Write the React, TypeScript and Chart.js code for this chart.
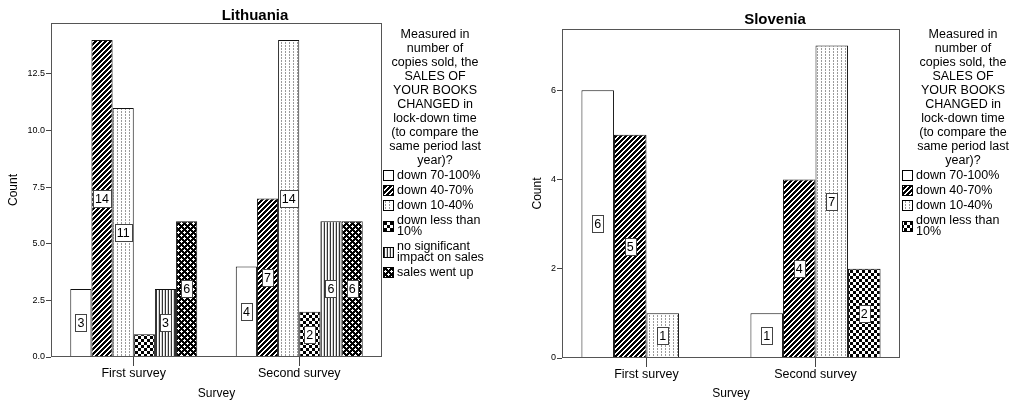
import React, { useEffect, useRef } from "react";
import { Chart, registerables } from "chart.js";

Chart.register(...registerables);

// ---------- data ----------
const categories = ["First survey", "Second survey"];

const ltDown70to100 = [3, 4];
const ltDown40to70 = [14, 7];
const ltDown10to40 = [11, 14];
const ltDownLess10 = [1, 2];
const ltNoImpact = [3, 6];
const ltWentUp = [6, 6];

const siDown70to100 = [6, 1];
const siDown40to70 = [5, 4];
const siDown10to40 = [1, 7];
const siDownLess10 = [null, 2];

const ltTicks = [0, 2.5, 5, 7.5, 10, 12.5];
const siTicks = [0, 2, 4, 6];

const seriesNames = [
  "down 70-100%",
  "down 40-70%",
  "down 10-40%",
  "down less than 10%",
  "no significant impact on sales",
  "sales went up",
];

const legendTitleLines = [
  "Measured in",
  "number of",
  "copies sold, the",
  "SALES OF",
  "YOUR BOOKS",
  "CHANGED in",
  "lock-down time",
  "(to compare the",
  "same period last",
  "year)?",
];

const FONT = '"Liberation Sans", Arial, Helvetica, sans-serif';

// ---------- patterns ----------
function tile(w: number, h: number, fn: (x: number, y: number) => string | null) {
  const c = document.createElement("canvas");
  c.width = w;
  c.height = h;
  const g = c.getContext("2d")!;
  g.fillStyle = "#fff";
  g.fillRect(0, 0, w, h);
  for (let y = 0; y < h; y++) {
    for (let x = 0; x < w; x++) {
      const col = fn(x, y);
      if (col) {
        g.fillStyle = col;
        g.fillRect(x, y, 1, 1);
      }
    }
  }
  return c;
}

function makePattern(ctx: CanvasRenderingContext2D, kind: number): CanvasPattern | string {
  let c: HTMLCanvasElement | null = null;
  if (kind === 0) return "#ffffff";
  if (kind === 1) c = tile(5, 5, (x, y) => ((x + y) % 5 < 3 ? "#000" : null));
  if (kind === 2) c = tile(4, 3, (x, y) => (x === 1 && y < 2 ? "#9a9a9a" : null));
  if (kind === 3) c = tile(6, 6, (x, y) => ((x < 3) === (y < 3) ? "#000" : null));
  if (kind === 4) c = tile(3, 1, (x) => (x === 0 ? "#333" : x === 2 ? "#d0d0d0" : null));
  if (kind === 5)
    c = tile(6, 6, (x, y) => {
      const d1 = Math.abs(x - 1) + Math.abs(y - 1);
      const d2 = Math.abs(x - 4) + Math.abs(y - 4);
      return d1 <= 1 || d2 <= 1 ? null : "#000";
    });
  return ctx.createPattern(c!, "repeat")!;
}

// ---------- plugins ----------
const valueLabels = {
  id: "valueLabels",
  afterDatasetsDraw(chart: any) {
    const ctx = chart.ctx as CanvasRenderingContext2D;
    ctx.save();
    ctx.font = `12.5px ${FONT}`;
    chart.data.datasets.forEach((ds: any, di: number) => {
      const meta = chart.getDatasetMeta(di);
      meta.data.forEach((bar: any, i: number) => {
        const v = ds.data[i];
        if (v == null || v === 0) return;
        const { x, y, base } = bar.getProps(["x", "y", "base"], true);
        const h = Math.abs(base - y);
        const text = String(v);
        const tw = ctx.measureText(text).width;
        const bw = Math.round(tw + 4);
        const bh = 17;
        if (h < bh + 8) return;
        const cy = (y + base) / 2;
        const left = Math.round(x - bw / 2) + 0.5;
        const top = Math.round(cy - bh / 2) + 0.5;
        ctx.fillStyle = "#fff";
        ctx.fillRect(left, top, bw, bh);
        ctx.strokeStyle = "#444";
        ctx.lineWidth = 1;
        ctx.strokeRect(left, top, bw, bh);
        ctx.fillStyle = "#000";
        ctx.textAlign = "center";
        ctx.textBaseline = "middle";
        ctx.fillText(text, x, cy + 1);
      });
    });
    ctx.restore();
  },
};

const frame = {
  id: "frame",
  afterDatasetsDraw(chart: any) {
    const { ctx, chartArea } = chart;
    ctx.save();
    ctx.strokeStyle = "#555";
    ctx.lineWidth = 1;
    ctx.strokeRect(
      Math.round(chartArea.left) + 0.5,
      Math.round(chartArea.top) + 0.5,
      Math.round(chartArea.right - chartArea.left) - 1,
      Math.round(chartArea.bottom - chartArea.top) - 1
    );
    ctx.restore();
  },
};

function wrapText(ctx: CanvasRenderingContext2D, text: string, maxW: number) {
  const words = text.split(" ");
  const lines: string[] = [];
  let cur = "";
  for (const w of words) {
    const t = cur ? cur + " " + w : w;
    if (cur && ctx.measureText(t).width > maxW) {
      lines.push(cur);
      cur = w;
    } else cur = t;
  }
  if (cur) lines.push(cur);
  return lines;
}

function makeLegend(swatchX: number, titleCenter: number) {
  return {
    id: "sideLegend",
    afterDraw(chart: any) {
      const ctx = chart.ctx as CanvasRenderingContext2D;
      ctx.save();
      ctx.font = `12.5px ${FONT}`;
      ctx.fillStyle = "#000";
      ctx.textBaseline = "middle";
      ctx.textAlign = "center";
      legendTitleLines.forEach((l, i) => ctx.fillText(l, titleCenter, 35 + i * 14));
      ctx.textAlign = "left";
      let top = 169.5;
      const L = 11;
      chart.data.datasets.forEach((ds: any) => {
        const lines = wrapText(ctx, ds.label, 93);
        const h = lines.length * L;
        const sy = Math.round(top + h / 2 - 5) + 0.5;
        ctx.fillStyle = ds.backgroundColor;
        ctx.fillRect(swatchX + 0.5, sy, 10, 10);
        ctx.strokeStyle = "#000";
        ctx.lineWidth = 1;
        ctx.strokeRect(swatchX + 0.5, sy, 10, 10);
        ctx.fillStyle = "#000";
        lines.forEach((ln, k) => ctx.fillText(ln, swatchX + 14, top + L / 2 + k * L + 0.5));
        top += h + 4;
      });
      ctx.restore();
    },
  };
}

// ---------- panel ----------
type PanelProps = {
  left: number;
  title: string;
  series: (number | null)[][];
  kinds: number[];
  yMax: number;
  ticks: number[];
  decimals: number;
  yWidth: number;
  rightWidth: number;
  xHeight: number;
  titleTop: number;
  titleBottom: number;
  countPad: number;
  catPct: number;
  swatchX: number;
  titleCenter: number;
};

function Panel(p: PanelProps) {
  const ref = useRef<HTMLCanvasElement>(null);
  useEffect(() => {
    const canvas = ref.current!;
    const ctx = canvas.getContext("2d")!;
    const chart = new Chart(canvas, {
      type: "bar",
      data: {
        labels: categories,
        datasets: p.series.map((vals, i) => ({
          label: seriesNames[i],
          data: vals,
          backgroundColor: makePattern(ctx, p.kinds[i]) as any,
          borderColor: "#111",
          borderWidth: 1,
          categoryPercentage: p.catPct,
          barPercentage: 1,
        })),
      },
      options: {
        animation: false,
        responsive: false,
        devicePixelRatio: 1,
        layout: { padding: 0 },
        plugins: {
          legend: { display: false },
          tooltip: { enabled: false },
          title: {
            display: true,
            text: p.title,
            color: "#000",
            font: { family: FONT, size: 15, weight: "bold", lineHeight: 1 },
            padding: { top: p.titleTop, bottom: p.titleBottom },
          },
        },
        scales: {
          x: {
            type: "category",
            offset: true,
            grid: {
              display: true,
              drawOnChartArea: false,
              drawTicks: true,
              tickLength: 9,
              offset: false,
              color: "#444",
            },
            border: { display: false },
            ticks: {
              font: { family: FONT, size: 12.5 },
              color: "#000",
              padding: 0,
              maxRotation: 0,
              autoSkip: false,
            },
            title: {
              display: true,
              text: "Survey",
              color: "#000",
              font: { family: FONT, size: 12 },
              padding: { top: 0, bottom: 0 },
            },
            afterFit: (s: any) => {
              s.height = p.xHeight;
            },
          },
          y: {
            type: "linear",
            min: 0,
            max: p.yMax,
            afterBuildTicks: (s: any) => {
              s.ticks = p.ticks.map((v) => ({ value: v }));
            },
            ticks: {
              callback: (v: any) => Number(v).toFixed(p.decimals),
              font: { family: FONT, size: 9 },
              color: "#000",
              padding: 1,
            },
            grid: { drawOnChartArea: false, drawTicks: true, tickLength: 5, color: "#444" },
            border: { display: false },
            title: {
              display: true,
              text: "Count",
              color: "#000",
              font: { family: FONT, size: 12 },
              padding: { top: p.countPad, bottom: 0 },
            },
            afterFit: (s: any) => {
              s.width = p.yWidth;
            },
          },
          yRight: {
            type: "linear",
            position: "right",
            display: true,
            ticks: { display: false },
            grid: { display: false },
            border: { display: false },
            afterFit: (s: any) => {
              s.width = p.rightWidth;
            },
          },
        },
      } as any,
      plugins: [valueLabels, frame, makeLegend(p.swatchX, p.titleCenter)],
    });
    return () => chart.destroy();
  }, []);
  return (
    <canvas
      ref={ref}
      width={510}
      height={401}
      style={{ position: "absolute", left: p.left, top: 0, width: 510, height: 401 }}
    />
  );
}

export default function App() {
  return (
    <div
      style={{
        position: "absolute",
        left: 0,
        top: 0,
        width: 1009,
        height: 401,
        overflow: "hidden",
        background: "#fff",
      }}
    >
      <Panel
        left={0}
        title="Lithuania"
        series={[ltDown70to100, ltDown40to70, ltDown10to40, ltDownLess10, ltNoImpact, ltWentUp]}
        kinds={[0, 1, 2, 3, 4, 5]}
        yMax={14.75}
        ticks={ltTicks}
        decimals={1}
        yWidth={51}
        rightWidth={128}
        xHeight={44}
        titleTop={8}
        titleBottom={0}
        countPad={6}
        catPct={0.767}
        swatchX={383}
        titleCenter={435}
      />
      <Panel
        left={520}
        title="Slovenia"
        series={[siDown70to100, siDown40to70, siDown10to40, siDownLess10]}
        kinds={[0, 1, 2, 3]}
        yMax={7.37}
        ticks={siTicks}
        decimals={0}
        yWidth={42}
        rightWidth={130}
        xHeight={43}
        titleTop={12}
        titleBottom={2}
        countPad={10}
        catPct={0.77}
        swatchX={382}
        titleCenter={443}
      />
    </div>
  );
}
